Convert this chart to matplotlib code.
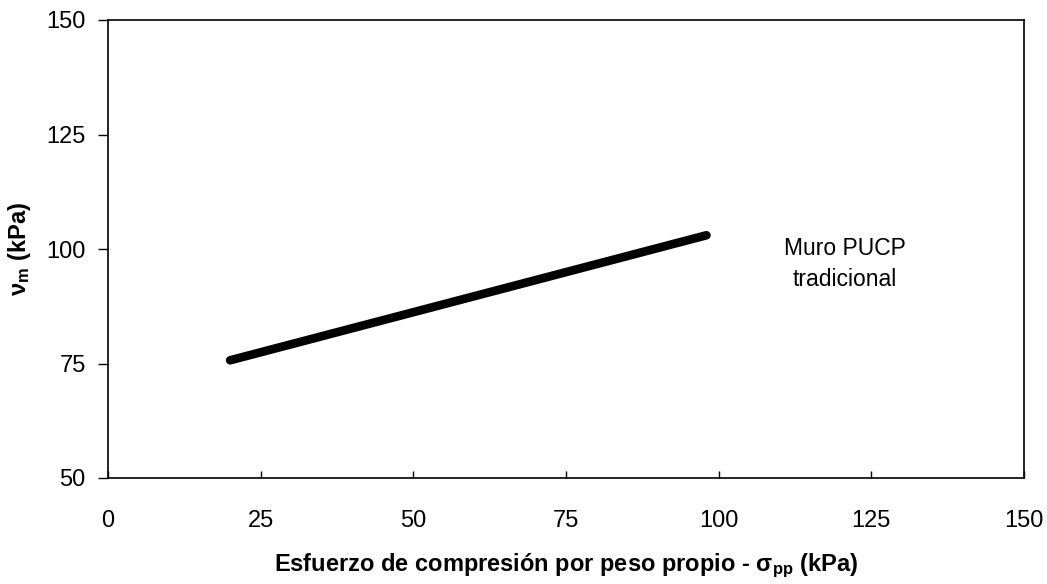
import matplotlib.pyplot as plt

plt.rcParams['font.family'] = ['Liberation Sans', 'DejaVu Sans']
plt.rcParams['mathtext.fontset'] = 'custom'
plt.rcParams['mathtext.rm'] = 'Liberation Sans'
plt.rcParams['mathtext.bf'] = 'Liberation Sans:bold'

# shear strength vs. self-weight compressive stress
sigma_pp = [20, 98]
v_m = [75.7, 103.0]

x_ticks = [0, 25, 50, 75, 100, 125, 150]
y_ticks = [50, 75, 100, 125, 150]

fig = plt.figure(figsize=(10.47, 5.84), dpi=100)
ax = fig.add_axes([108 / 1047, 1 - 478 / 584, (1024 - 108) / 1047, (478 - 20) / 584])

ax.plot(sigma_pp, v_m, color='black', linewidth=6.2, solid_capstyle='round')

ax.text(120.6, 96.7, 'Muro PUCP\ntradicional', ha='center', va='center',
        fontsize=16.5, linespacing=1.45)

ax.set_xlim(0, 150)
ax.set_ylim(50, 150)
ax.set_xticks(x_ticks)
ax.set_yticks(y_ticks)
ax.tick_params(axis='x', direction='in', length=5, width=1, labelsize=17, pad=23)
ax.tick_params(axis='y', direction='out', length=7, width=1, labelsize=17, pad=9)
for s in ax.spines.values():
    s.set_linewidth(1.2)
    s.set_color('black')

ax.set_xlabel(r'Esfuerzo de compresión por peso propio - $\mathbf{\sigma_{pp}}$ (kPa)',
              fontsize=17, fontweight='bold', labelpad=14)
ax.set_ylabel(r'$\mathbf{\nu_{m}}$ (kPa)', fontsize=17, fontweight='bold', labelpad=10)

fig.savefig('out.png', dpi=100)
